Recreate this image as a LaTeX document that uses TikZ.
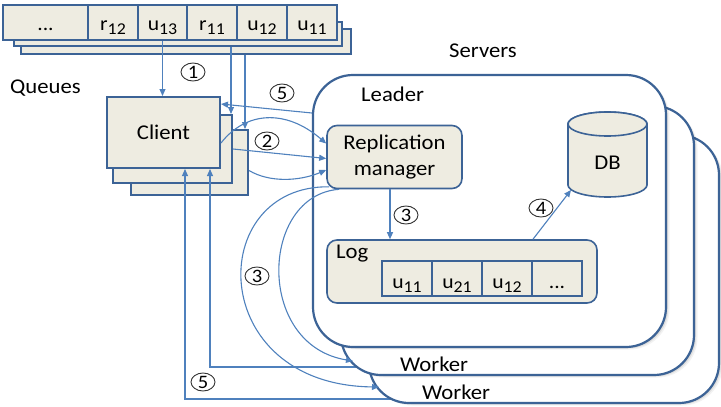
\documentclass[tikz,border=0pt]{standalone}
\usepackage{fontspec}
\setmainfont{Carlito}[FakeStretch=1.08]
\usetikzlibrary{arrows.meta,shapes.geometric,shadows}

\definecolor{boxedge}{HTML}{3C6396}
\definecolor{flow}{HTML}{4F81BD}
\definecolor{tan}{HTML}{EEECE1}

% lowered index digits, as in u_{11}
\newcommand\idx[1]{\raisebox{-4.5pt}{\fontsize{16.5}{16.5}\selectfont #1}}

\begin{document}
\begin{tikzpicture}[x=1pt,y=-1pt,
  lbl/.style={font=\fontsize{21}{26}\selectfont, inner sep=0pt},
  layer/.style={draw=boxedge, fill=tan, line width=1.4pt, inner sep=0pt},
  qcell/.style={draw=boxedge, fill=tan, line width=1.2pt, inner sep=0pt,
    minimum height=35pt, text height=17pt, text depth=2pt,
    font=\fontsize{20}{20}\selectfont},
  lcell/.style={draw=boxedge, fill=tan, line width=1.2pt, inner sep=0pt,
    minimum width=50pt, minimum height=35pt, text height=21pt, text depth=2pt,
    font=\fontsize{20}{20}\selectfont},
  softshadow/.style={
    general shadow={fill=black, opacity=0.05, shadow xshift=3.5pt, shadow yshift=-2.5pt},
    general shadow={fill=black, opacity=0.08, shadow xshift=2.2pt, shadow yshift=-1.5pt},
    general shadow={fill=black, opacity=0.12, shadow xshift=1pt, shadow yshift=-0.7pt}},
  server/.style={draw=boxedge, fill=white, line width=2.2pt, rounded corners=40pt,
    inner sep=0pt, softshadow},
  inbox/.style={draw=boxedge, fill=tan, line width=1.6pt, rounded corners=10pt, inner sep=0pt},
  flowline/.style={draw=flow, line width=1.1pt},
  arr/.style={flowline, -{Triangle[length=7pt,width=6pt]}},
  numlbl/.style={ellipse, draw=black!80, line width=0.9pt, minimum width=24pt,
    minimum height=18pt, inner sep=0pt, font=\fontsize{19}{19}\selectfont},
]
\useasboundingbox (0,0) rectangle (721,407);

% ---- request queues (stacked) ----
\node[layer, minimum width=330pt, minimum height=25pt] (q3) at (186,41.5) {};
\node[layer, minimum width=328pt, minimum height=24pt] (q2) at (178,34) {};
\node[qcell, minimum width=85pt] (c0)  at (45.5,22.5)  {...};
\node[qcell, minimum width=50pt] (c12r) at (113,22.5) {r\idx{12}};
\node[qcell, minimum width=49pt] (c13) at (162.5,22.5) {u\idx{13}};
\node[qcell, minimum width=50pt] (c11r) at (212,22.5) {r\idx{11}};
\node[qcell, minimum width=50pt] (c12) at (262,22.5) {u\idx{12}};
\node[qcell, minimum width=50pt] (c11) at (312,22.5) {u\idx{11}};
\node[lbl, anchor=base west] (queues) at (10,93) {Queues};

% ---- clients (stacked) ----
\node[layer, line width=2pt, minimum width=117pt, minimum height=65pt] (cl3) at (189.5,162.5) {};
\node[layer, line width=2pt, minimum width=119pt, minimum height=68pt] (cl2) at (172.5,149) {};
\node[layer, line width=2pt, minimum width=113pt, minimum height=71pt, lbl] (client) at (163.5,132.5) {Client};

% ---- replies from the workers, running under the server boxes ----
\coordinate (w1in) at (420,367);
\coordinate (w2in) at (430,399);
\draw[arr] (w1in) -| ([xshift=46.5pt]client.south);
\draw[arr] (w2in) -| ([xshift=21.5pt]client.south);

% ---- servers ----
\node[server, minimum width=350pt, minimum height=268pt] (worker2) at (544,269) {};
\node[server, minimum width=353pt, minimum height=269pt] (worker1) at (517.5,240.5) {};
\node[server, minimum width=353pt, minimum height=272pt] (leader) at (489.5,211) {};

\node[lbl, anchor=base west] (servers) at (449,57) {Servers};
\node[lbl, anchor=base west] (leadertxt) at (361,101) {Leader};
\node[lbl, anchor=base west] (worker1txt) at (400,371) {Worker};
\node[lbl, anchor=base west] (worker2txt) at (422,399) {Worker};

% replication manager
\node[inbox, minimum width=135pt, minimum height=63pt, lbl, align=center]
  (rm) at (394.5,157) {Replication\\manager};

% log with its entries
\node[inbox, minimum width=270pt, minimum height=63pt] (log) at (462,271.5) {};
\node[lbl, anchor=base west] (logtxt) at (336,258) {Log};
\node[lcell] (l1) at (407,278.5) {u\idx{11}};
\node[lcell] (l2) at (457,278.5) {u\idx{21}};
\node[lcell] (l3) at (507,278.5) {u\idx{12}};
\node[lcell] (l4) at (557,278.5) {...};

% database cylinder
\draw[draw=boxedge, fill=tan, line width=1.6pt]
  (568,124) -- (568,185) arc[start angle=180, end angle=360, x radius=39.5pt, y radius=12pt]
  -- (647,124) arc[start angle=0, end angle=180, x radius=39.5pt, y radius=12pt] -- cycle;
\draw[draw=boxedge, fill=tan, line width=1.6pt] (607.5,124) ellipse[x radius=39.5pt, y radius=12pt];
\node[lbl, anchor=base] (db) at (607.5,169) {DB};
\coordinate (dbfoot) at (571,190);

% ---- message flow ----
% (1) client reads its queue
\draw[arr] (c13.south) -- (c13.south |- client.north);
\draw[arr] ([xshift=53pt]q2.south) -- ([xshift=53pt]q2.south |- cl2.north);
\draw[arr] ([xshift=59pt]q3.south) -- ([xshift=59pt]q3.south |- cl3.north);
% (2) clients send to the replication manager
\draw[arr] ([yshift=-10.5pt]client.east) .. controls (245,112) and (285,108) .. ([yshift=13.5pt]rm.west);
\draw[arr] (cl2.east) -- ([yshift=-1.5pt]rm.west);
\draw[arr] ([yshift=-8pt]cl3.east) .. controls (270,183) and (300,181) .. ([yshift=-13pt]rm.west);
% (3) replication to the log and to the workers
\draw[arr] ([xshift=-4.5pt]rm.south) -- ([xshift=-4.5pt]rm.south |- log.north);
\coordinate (w1tip) at (353,361);
\coordinate (w2tip) at (379,387);
\draw[arr] ([xshift=13pt]rm.south west) .. controls (260,195) and (255,345) .. (w1tip);
\draw[arr] ([xshift=3pt,yshift=2.5pt]rm.south west) .. controls (205,185) and (205,385) .. (w2tip);
% (4) log applied to the database
\draw[arr] ([xshift=71pt]log.north) -- (dbfoot);
% (5) leader replies to the client
\draw[arr] ([yshift=98pt]leader.west) -- ([yshift=28.5pt]client.east);

% step numbers
\node[numlbl] (n1) at (193,72) {1};
\node[numlbl] (n5a) at (282,93) {5};
\node[numlbl] (n2) at (267,141) {2};
\node[numlbl] (n3a) at (406,215) {3};
\node[numlbl] (n4) at (541,208) {4};
\node[numlbl] (n3b) at (257,276) {3};
\node[numlbl] (n5b) at (203,382) {5};
\end{tikzpicture}
\end{document}
